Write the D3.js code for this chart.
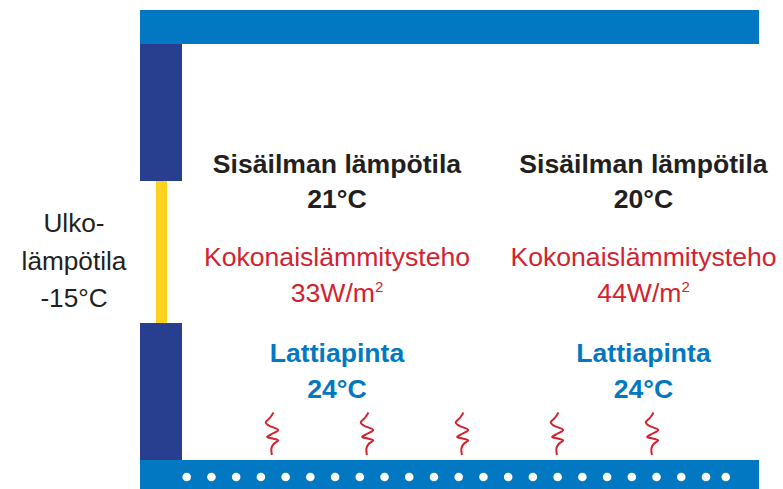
<!DOCTYPE html>
<html>
<head>
<meta charset="utf-8">
<script src="https://cdn.jsdelivr.net/npm/d3@7.9.0/dist/d3.min.js"></script>
<style>
  html, body { margin: 0; padding: 0; background: #fff; }
  svg { display: block; }
  text { font-family: "Liberation Sans", Arial, sans-serif; text-anchor: middle; }
</style>
</head>
<body>
<svg width="783" height="489"></svg>
<script>
// rooms
const airTemps = ['21°C', '20°C'];
const heatPowers = [33, 44];
const floorTemps = ['24°C', '24°C'];
const outdoor = ['Ulko-', 'lämpötila', '-15°C'];

// floor pipes (position in pipe spacings) and heat squiggles
const pipes = [0, 1, 2, 3, 4, 5, 6, 7, 8, 9, 10, 11, 12, 13, 14, 15, 16, 17, 18, 19, 20, 21, 21.8];
const squiggles = [0, 1, 2, 3, 4];
const squigglePath = [[1.8, 0], [-1.5, 5], [-6, 10], [-3, 13], [6.5, 17.5], [1, 21], [-4.5, 24.5], [1, 26], [6.5, 28], [2, 31.5], [-0.3, 36], [0.2, 42.5]];

const blue = '#0378c2', navy = '#283f8f', yellow = '#fdd21f', red = '#d2232f';

const svg = d3.select('svg');

const xPipe = d3.scaleLinear().domain([0, 21]).range([186.7, 706]);
const xSquiggle = d3.scaleLinear().domain([0, 4]).range([271.7, 651.7]);
const xRoom = d3.scalePoint().domain([0, 1]).range([337, 643.5]);

function rect(x0, y0, x1, y1, fill) {
  svg.append('rect').attr('x', x0).attr('y', y0)
    .attr('width', x1 - x0).attr('height', y1 - y0).attr('fill', fill);
}

// structure
rect(140, 10, 759, 44, blue);
rect(140, 44, 182, 181, navy);
rect(156, 181, 167, 323, yellow);
rect(140, 323, 182, 460, navy);
rect(140, 460, 759, 489, blue);

svg.selectAll('circle.pipe').data(pipes).join('circle')
  .attr('class', 'pipe')
  .attr('cx', d => xPipe(d))
  .attr('cy', 477)
  .attr('r', 4.3)
  .attr('fill', '#fff');

const line = d3.line().curve(d3.curveCatmullRom.alpha(0.5));
svg.selectAll('path.heat').data(squiggles).join('path')
  .attr('class', 'heat')
  .attr('d', line(squigglePath))
  .attr('transform', d => `translate(${xSquiggle(d)},412.5)`)
  .attr('fill', 'none')
  .attr('stroke', red)
  .attr('stroke-width', 2);

// labels
function label(x, y, str, size, weight, fill) {
  return svg.append('text').attr('x', x).attr('y', y)
    .attr('font-size', size).attr('font-weight', weight).attr('fill', fill).text(str);
}

airTemps.forEach((t, i) => {
  const x = xRoom(i);
  label(x, 173, 'Sisäilman lämpötila', 26.6, 'bold', '#231f20');
  label(x, 208, t, 26.6, 'bold', '#231f20');
  label(x, 266, 'Kokonaislämmitysteho', 26.6, 'normal', red);
  const power = label(x, 302, '', 26.6, 'normal', red);
  power.append('tspan').text(heatPowers[i] + 'W/m');
  power.append('tspan').attr('font-size', 15).attr('dy', -10).text('2');
  label(x, 362, 'Lattiapinta', 26.6, 'bold', blue);
  label(x, 398, floorTemps[i], 26.6, 'bold', blue);
});

outdoor.forEach((t, i) => {
  label(74, [232, 270, 307][i], t, 26.2, 'normal', '#231f20');
});
</script>
</body>
</html>
